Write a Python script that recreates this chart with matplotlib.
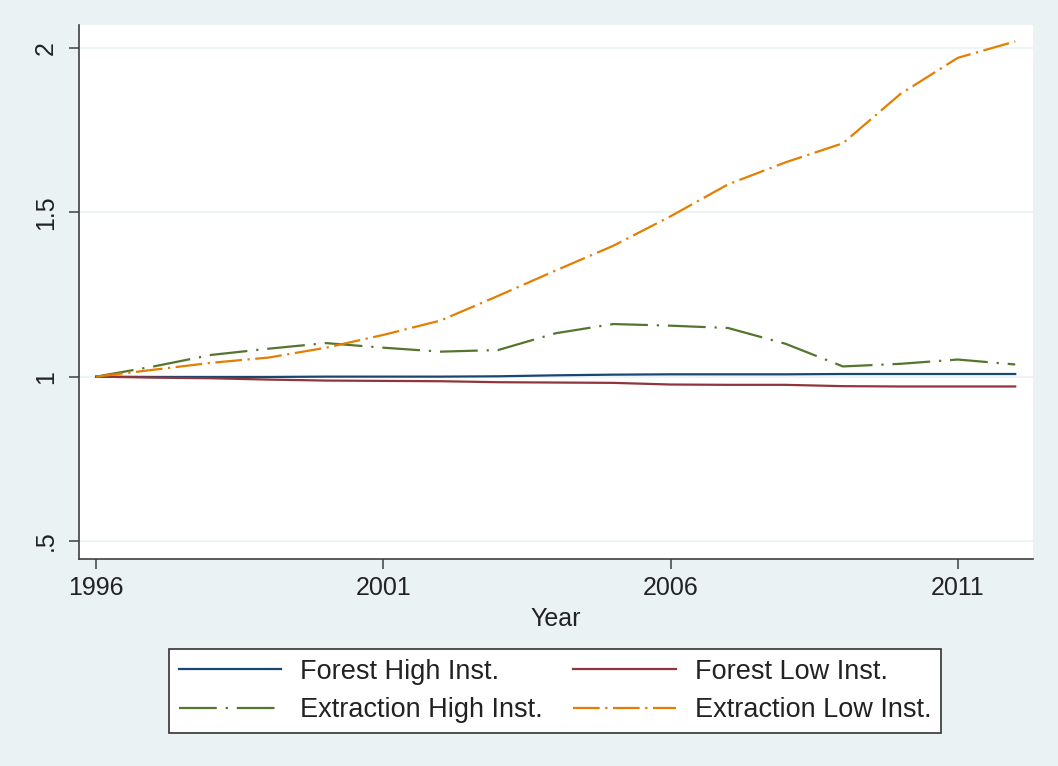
import matplotlib

matplotlib.use("Agg")

import matplotlib.pyplot as plt  # noqa: E402

plt.rcParams["font.family"] = ["Liberation Sans", "DejaVu Sans"]

# ── Data ──────────────────────────────────────────────────
years = list(range(1996, 2013))
forest_high = [1.000, 0.999, 0.999, 0.999, 1.000, 1.000, 1.000, 1.001, 1.004,
               1.006, 1.007, 1.007, 1.007, 1.008, 1.008, 1.008, 1.008]
forest_low = [1.000, 0.997, 0.995, 0.991, 0.988, 0.987, 0.986, 0.983, 0.982,
              0.981, 0.976, 0.975, 0.975, 0.971, 0.970, 0.970, 0.970]
extract_high = [1.000, 1.031, 1.066, 1.085, 1.102, 1.088, 1.076, 1.081, 1.132,
                1.160, 1.155, 1.148, 1.100, 1.031, 1.039, 1.052, 1.037]
extract_low = [1.000, 1.021, 1.042, 1.058, 1.088, 1.127, 1.171, 1.246, 1.323,
               1.398, 1.488, 1.585, 1.652, 1.710, 1.860, 1.970, 2.020]

series_labels = ["Forest High Inst.", "Forest Low Inst.",
                 "Extraction High Inst.", "Extraction Low Inst."]
x_ticks = [1996, 2001, 2006, 2011]
y_ticks = [0.5, 1.0, 1.5, 2.0]
y_tick_labels = [".5", "1", "1.5", "2"]

# ── Style ─────────────────────────────────────────────────
bg = "#eaf2f3"
colors = ["#1a476f", "#90353b", "#55752f", "#e37e00"]
styles = ["-", "-", (0, (17, 4, 1, 4)), (0, (12, 2.5, 1, 2.5))]

fig = plt.figure(figsize=(10.58, 7.66), dpi=100)
fig.patch.set_facecolor(bg)
ax = fig.add_axes([0.0747, 0.2702, 0.9017, 0.6972])
ax.set_facecolor("white")

handles = []
for vals, color, ls, label in zip(
    [forest_high, forest_low, extract_high, extract_low], colors, styles, series_labels
):
    (h,) = ax.plot(years, vals, color=color, linestyle=ls, linewidth=1.6, label=label)
    handles.append(h)

ax.set_xlim(1995.70, 2012.31)
ax.set_ylim(0.445, 2.07)
ax.set_xticks(x_ticks)
ax.set_xticklabels([str(t) for t in x_ticks])
ax.set_yticks(y_ticks)
ax.set_yticklabels(y_tick_labels, rotation=90, va="center")
ax.grid(True, axis="y", color=bg, linewidth=1.2, zorder=0)
ax.set_axisbelow(True)

for side in ("top", "right"):
    ax.spines[side].set_visible(False)
for side in ("left", "bottom"):
    ax.spines[side].set_color("#404040")
    ax.spines[side].set_linewidth(1.2)

ax.tick_params(axis="both", length=7, width=1.1, color="#404040",
               labelsize=18, labelcolor="#222222")
ax.tick_params(axis="y", pad=8)
ax.tick_params(axis="x", pad=5)
ax.set_xlabel("Year", fontsize=18, color="#222222", labelpad=5)

# ── Legend (row-wise order: matplotlib fills columns first) ──
order = [0, 2, 1, 3]
leg = fig.legend(
    [handles[i] for i in order],
    [series_labels[i] for i in order],
    loc="center",
    bbox_to_anchor=(0.5246, 0.098),
    ncol=2,
    fontsize=19.5,
    handlelength=3.8,
    handletextpad=0.7,
    columnspacing=1.1,
    labelspacing=0.45,
    borderpad=0.35,
    borderaxespad=0,
    frameon=True,
    fancybox=False,
    framealpha=1,
    facecolor="white",
    edgecolor="#333333",
)
leg.get_frame().set_linewidth(1.2)
for t in leg.get_texts():
    t.set_color("#222222")

fig.savefig("out.png", dpi=100, facecolor=fig.get_facecolor())
plt.close(fig)
